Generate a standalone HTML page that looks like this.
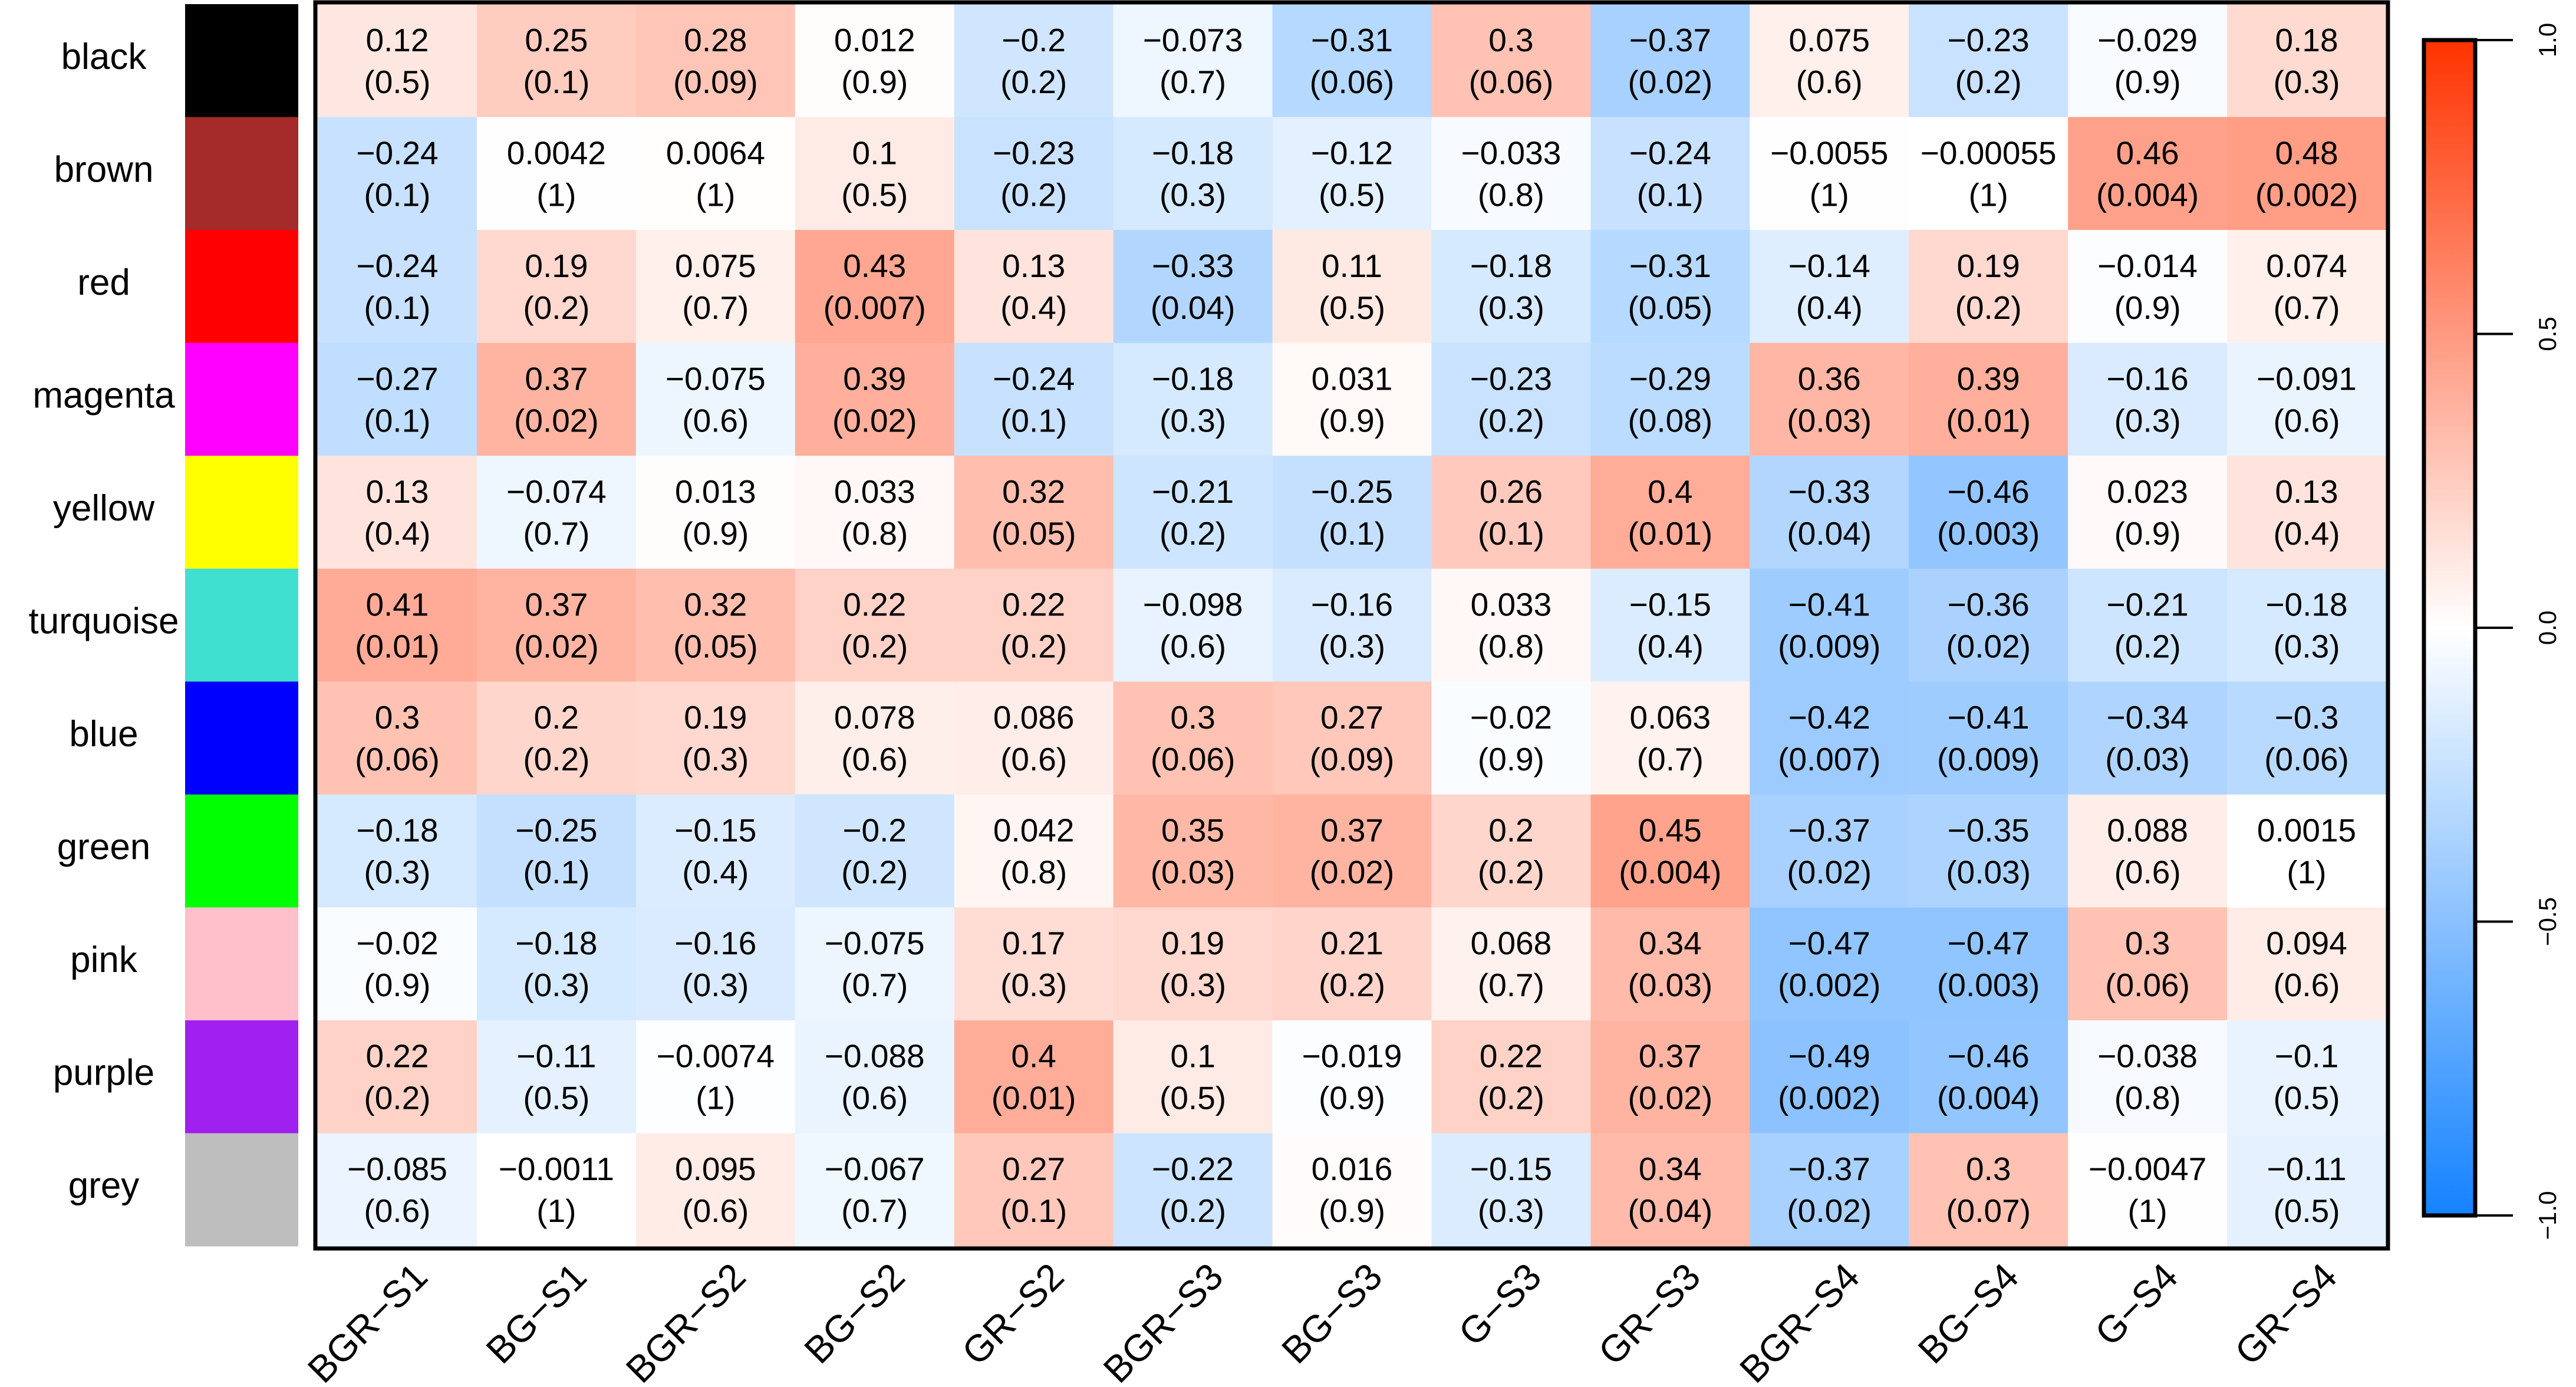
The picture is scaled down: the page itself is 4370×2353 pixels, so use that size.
<!DOCTYPE html>
<html><head><meta charset="utf-8">
<style>
html,body{margin:0;padding:0;background:#fff;}
svg{display:block;font-family:"Liberation Sans",Arial,sans-serif;}
</style></head>
<body>
<svg id="chart" width="4370" height="2353" viewBox="0 0 4370 2353" xmlns="http://www.w3.org/2000/svg">
<defs>
<linearGradient id="cbgrad" x1="0" y1="1" x2="0" y2="0">
<stop offset="0" stop-color="#1482ff"/>
<stop offset="0.25" stop-color="#8ac1ff"/>
<stop offset="0.5" stop-color="#ffffff"/>
<stop offset="0.75" stop-color="#ff9980"/>
<stop offset="1" stop-color="#ff3300"/>
</linearGradient>
</defs>
<g id="cells"></g>
<g id="rowlabels"></g>
<g id="swatches"></g>
<g id="collabels"></g>
<rect x="535" y="4" width="3516" height="2114" fill="none" stroke="#000" stroke-width="7"/>
<g id="colorbar">
<rect x="4112" y="68" width="87" height="1994" fill="url(#cbgrad)" stroke="#000" stroke-width="7"/>
</g>
</svg>
<script>
const rowNames = ["black","brown","red","magenta","yellow","turquoise","blue","green","pink","purple","grey"];
const rowColors = ["#000000","#a52a2a","#ff0000","#ff00ff","#ffff00","#40e0d0","#0000ff","#00ff00","#ffc0cb","#a020f0","#bebebe"];
const colNames = ["BGR\u2212S1","BG\u2212S1","BGR\u2212S2","BG\u2212S2","GR\u2212S2","BGR\u2212S3","BG\u2212S3","G\u2212S3","GR\u2212S3","BGR\u2212S4","BG\u2212S4","G\u2212S4","GR\u2212S4"];
const corVals = [
[0.12,0.25,0.28,0.012,-0.2,-0.073,-0.31,0.3,-0.37,0.075,-0.23,-0.029,0.18],
[-0.24,0.0042,0.0064,0.1,-0.23,-0.18,-0.12,-0.033,-0.24,-0.0055,-0.00055,0.46,0.48],
[-0.24,0.19,0.075,0.43,0.13,-0.33,0.11,-0.18,-0.31,-0.14,0.19,-0.014,0.074],
[-0.27,0.37,-0.075,0.39,-0.24,-0.18,0.031,-0.23,-0.29,0.36,0.39,-0.16,-0.091],
[0.13,-0.074,0.013,0.033,0.32,-0.21,-0.25,0.26,0.4,-0.33,-0.46,0.023,0.13],
[0.41,0.37,0.32,0.22,0.22,-0.098,-0.16,0.033,-0.15,-0.41,-0.36,-0.21,-0.18],
[0.3,0.2,0.19,0.078,0.086,0.3,0.27,-0.02,0.063,-0.42,-0.41,-0.34,-0.3],
[-0.18,-0.25,-0.15,-0.2,0.042,0.35,0.37,0.2,0.45,-0.37,-0.35,0.088,0.0015],
[-0.02,-0.18,-0.16,-0.075,0.17,0.19,0.21,0.068,0.34,-0.47,-0.47,0.3,0.094],
[0.22,-0.11,-0.0074,-0.088,0.4,0.1,-0.019,0.22,0.37,-0.49,-0.46,-0.038,-0.1],
[-0.085,-0.0011,0.095,-0.067,0.27,-0.22,0.016,-0.15,0.34,-0.37,0.3,-0.0047,-0.11]
];
const pVals = [
["0.5","0.1","0.09","0.9","0.2","0.7","0.06","0.06","0.02","0.6","0.2","0.9","0.3"],
["0.1","1","1","0.5","0.2","0.3","0.5","0.8","0.1","1","1","0.004","0.002"],
["0.1","0.2","0.7","0.007","0.4","0.04","0.5","0.3","0.05","0.4","0.2","0.9","0.7"],
["0.1","0.02","0.6","0.02","0.1","0.3","0.9","0.2","0.08","0.03","0.01","0.3","0.6"],
["0.4","0.7","0.9","0.8","0.05","0.2","0.1","0.1","0.01","0.04","0.003","0.9","0.4"],
["0.01","0.02","0.05","0.2","0.2","0.6","0.3","0.8","0.4","0.009","0.02","0.2","0.3"],
["0.06","0.2","0.3","0.6","0.6","0.06","0.09","0.9","0.7","0.007","0.009","0.03","0.06"],
["0.3","0.1","0.4","0.2","0.8","0.03","0.02","0.2","0.004","0.02","0.03","0.6","1"],
["0.9","0.3","0.3","0.7","0.3","0.3","0.2","0.7","0.03","0.002","0.003","0.06","0.6"],
["0.2","0.5","1","0.6","0.01","0.5","0.9","0.2","0.02","0.002","0.004","0.8","0.5"],
["0.6","1","0.6","0.7","0.1","0.2","0.9","0.3","0.04","0.02","0.07","1","0.5"]
];
const legendTicks = [-1.0,-0.5,0.0,0.5,1.0];
const legendTickLabels = ["\u22121.0","\u22120.5","0.0","0.5","1.0"];

const NS="http://www.w3.org/2000/svg";
const X0=539, X1=4048, Y0=7, Y1=2114;
const cw=(X1-X0)/colNames.length, rh=(Y1-Y0)/rowNames.length;
const xPos=j=>X0+j*cw, yPos=i=>Y0+i*rh;
const LB0=2062, LB1=68;
const legendY=v=>LB0+(v+1)/2*(LB1-LB0);
function mk(tag,attrs,parent){const e=document.createElementNS(NS,tag);for(const k in attrs)e.setAttribute(k,attrs[k]);parent.appendChild(e);return e;}
function colorFor(v){
  v=Math.max(-1,Math.min(1,v));
  let r,g,b;
  if(v>=0){const t=v;
    if(t<=0.5){const s=t/0.5;r=255;g=255-102*s;b=255-127*s;}
    else{const s=(t-0.5)/0.5;r=255;g=153-102*s;b=128-128*s;}
  } else {const t=-v;
    if(t<=0.5){const s=t/0.5;r=255-117*s;g=255-62*s;b=255;}
    else{const s=(t-0.5)/0.5;r=138-118*s;g=193-63*s;b=255;}
  }
  return `rgb(${Math.round(r)},${Math.round(g)},${Math.round(b)})`;
}
function fmt(v){const s=String(v);return v<0?"\u2212"+s.slice(1):s;}
const cells=document.getElementById('cells');
const rowl=document.getElementById('rowlabels');
const sw=document.getElementById('swatches');
const coll=document.getElementById('collabels');
rowNames.forEach((rn,i)=>{
  const sr=mk('rect',{x:314,y:yPos(i),width:192,height:rh+0.5,fill:rowColors[i]},sw);
  
  
  const t=mk('text',{x:176,y:yPos(i)+rh/2+14,'text-anchor':'middle','font-size':62,fill:'#000'},rowl);
  t.textContent=rn;
  
  
  colNames.forEach((cn,j)=>{
    const v=corVals[i][j];
    const r=mk('rect',{x:xPos(j),y:yPos(i),width:cw+0.5,height:rh+0.5,fill:colorFor(v)},cells);
    
    
    const cx=xPos(j)+cw/2, cy=yPos(i)+rh/2;
    const t1=mk('text',{x:cx,y:cy-16,'text-anchor':'middle','font-size':55,fill:'#000'},cells);
    t1.textContent=fmt(v);
    
    
    const t2=mk('text',{x:cx,y:cy+55,'text-anchor':'middle','font-size':55,fill:'#000'},cells);
    t2.textContent='('+pVals[i][j]+')';
    
    
  });
});
colNames.forEach((cn,j)=>{
  const ax=xPos(j)+cw/2+55, ay=2170;
  const t=mk('text',{x:ax,y:ay,'text-anchor':'end','font-size':64,fill:'#000',transform:`rotate(-45 ${ax} ${ay})`},coll);
  t.textContent=cn;
  
  
});
const cb=document.getElementById('colorbar');
legendTicks.forEach((v,k)=>{
  const y=legendY(v);
  const l=mk('line',{x1:4202,x2:4263,y1:y,y2:y,stroke:'#000','stroke-width':4},cb);
  
  
  const tx=4336;
  const t=mk('text',{x:tx,y:y,'text-anchor':'middle','font-size':42,fill:'#000',transform:`rotate(-90 ${tx} ${y})`},cb);
  t.textContent=legendTickLabels[k];
  
  
});
</script>
</body></html>
